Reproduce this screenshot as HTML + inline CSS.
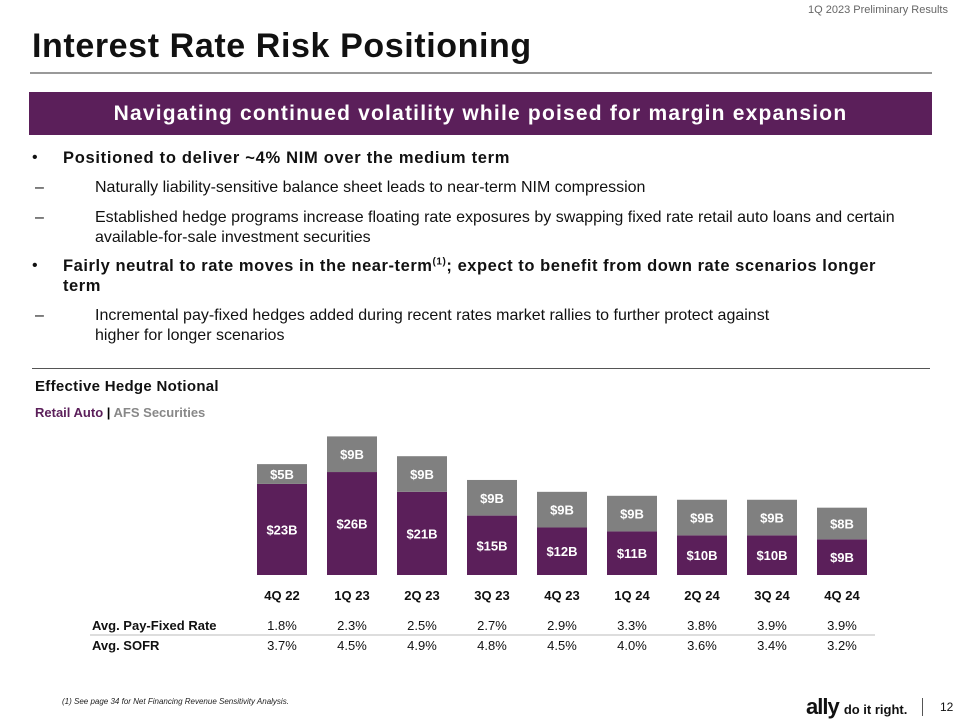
<!DOCTYPE html>
<html><head><meta charset="utf-8"><style>
body{margin:0;width:960px;height:720px;background:#fff;font-family:"Liberation Sans",sans-serif;position:relative;overflow:hidden}
.a{position:absolute}
.b{font-weight:bold}
</style></head><body>
<div class="a" style="right:12px;top:4px;font-size:11px;color:#666">1Q 2023 Preliminary Results</div>
<div class="a b" style="left:32px;top:27px;font-size:34px;color:#111;letter-spacing:0.6px">Interest Rate Risk Positioning</div>
<div class="a" style="left:30px;top:72px;width:902px;height:2px;background:#999"></div>
<div class="a b" style="left:29px;top:92px;width:903px;height:43px;background:#5b1f5a;color:#fff;font-size:21px;text-align:center;line-height:43px;letter-spacing:1.2px">Navigating continued volatility while poised for margin expansion</div>
<div class="a" style="left:32px;top:148px;width:880px;font-size:16px;color:#111;line-height:20px">
<div style="position:absolute;top:0"><span>•</span><span class="b" style="position:absolute;left:31px;white-space:nowrap;font-size:16.5px;letter-spacing:0.7px">Positioned to deliver ~4% NIM over the medium term</span></div>
<div style="position:absolute;top:30px;left:3px"><span>–</span><span style="position:absolute;left:60px;white-space:nowrap">Naturally liability-sensitive balance sheet leads to near-term NIM compression</span></div>
<div style="position:absolute;top:60px;left:3px;width:880px"><span>–</span><span style="position:absolute;left:60px;width:820px">Established hedge programs increase floating rate exposures by swapping fixed rate retail auto loans and certain available-for-sale investment securities</span></div>
<div style="position:absolute;top:108px;width:880px"><span>•</span><span class="b" style="position:absolute;left:31px;width:850px;font-size:16.5px;letter-spacing:0.55px">Fairly neutral to rate moves in the near-term<sup style="font-size:10px;line-height:0">(1)</sup>; expect to benefit from down rate scenarios longer term</span></div>
<div style="position:absolute;top:158px;left:3px"><span>–</span><span style="position:absolute;left:60px;width:700px">Incremental pay-fixed hedges added during recent rates market rallies to further protect against higher for longer scenarios</span></div>
</div>
<div class="a" style="left:32px;top:368px;width:898px;height:1px;background:#555"></div>
<div class="a b" style="left:35px;top:378px;font-size:15px;color:#111;letter-spacing:0.3px">Effective Hedge Notional</div>
<div class="a b" style="left:35px;top:405px;font-size:13px"><span style="color:#5b1f5a">Retail Auto</span> | <span style="color:#888">AFS Securities</span></div>
<svg class="a" style="left:0;top:0" width="960" height="720" id="chart"></svg>
<div class="a" style="left:62px;top:697px;font-size:8px;font-style:italic;color:#222">(1) See page 34 for Net Financing Revenue Sensitivity Analysis.</div>
<div class="a b" style="left:806px;top:694px;font-size:22px;color:#111;letter-spacing:-1px">ally <span style="font-size:13px;letter-spacing:0">do it right.</span></div>
<div class="a" style="left:922px;top:698px;width:1px;height:18px;background:#555"></div>
<div class="a" style="left:940px;top:700px;font-size:12px;color:#111">12</div>
<script>
const categories=["4Q 22","1Q 23","2Q 23","3Q 23","4Q 23","1Q 24","2Q 24","3Q 24","4Q 24"];
const retailAuto=[23,26,21,15,12,11,10,10,9];
const afs=[5,9,9,9,9,9,9,9,8];
const payFixed=["1.8%","2.3%","2.5%","2.7%","2.9%","3.3%","3.8%","3.9%","3.9%"];
const sofr=["3.7%","4.5%","4.9%","4.8%","4.5%","4.0%","3.6%","3.4%","3.2%"];
const svg=document.getElementById('chart');const NS='http://www.w3.org/2000/svg';
const base=575,scale=3.96,x0=257,step=70,bw=50;
const xPos=i=>x0+i*step;const yPos=v=>base-v*scale;
function mk(t,a,txt){const e=document.createElementNS(NS,t);for(const k in a)e.setAttribute(k,a[k]);if(txt!=null)e.textContent=txt;svg.appendChild(e);return e;}
const F='Liberation Sans, sans-serif';
categories.forEach((c,i)=>{
const x=xPos(i),r=retailAuto[i],g=afs[i];
const p=mk('rect',{x:x,y:yPos(r),width:bw,height:base-yPos(r),fill:'#5b1f5a'});


const q=mk('rect',{x:x,y:yPos(r+g),width:bw,height:yPos(r)-yPos(r+g),fill:'#808080'});


const t1=mk('text',{x:x+bw/2,y:(yPos(r)+base)/2+5,'text-anchor':'middle','font-family':F,'font-weight':'bold','font-size':13,fill:'#fff'},'$'+r+'B');


const t2=mk('text',{x:x+bw/2,y:(yPos(r)+yPos(r+g))/2+5,'text-anchor':'middle','font-family':F,'font-weight':'bold','font-size':13,fill:'#fff'},'$'+g+'B');


const t3=mk('text',{x:x+bw/2,y:600,'text-anchor':'middle','font-family':F,'font-weight':'bold','font-size':13,fill:'#111'},c);


const t4=mk('text',{x:x+bw/2,y:630,'text-anchor':'middle','font-family':F,'font-size':13,fill:'#111'},payFixed[i]);


const t5=mk('text',{x:x+bw/2,y:650,'text-anchor':'middle','font-family':F,'font-size':13,fill:'#111'},sofr[i]);


});
const l1=mk('text',{x:92,y:630,'font-family':F,'font-weight':'bold','font-size':13,fill:'#111'},'Avg. Pay-Fixed Rate');


const l2=mk('text',{x:92,y:650,'font-family':F,'font-weight':'bold','font-size':13,fill:'#111'},'Avg. SOFR');


const ln=mk('line',{x1:90,y1:635,x2:875,y2:635,stroke:'#bbb','stroke-width':1});


</script>
</body></html>
